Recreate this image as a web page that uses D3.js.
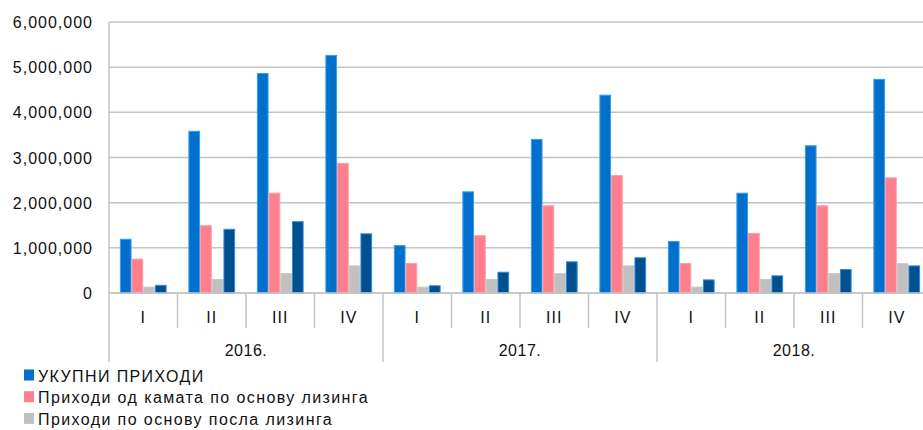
<!DOCTYPE html>
<html lang="sr">
<head>
    <meta charset="UTF-8">
    <title>Приходи</title>
    <script src="https://d3js.org/d3.v7.min.js"></script>
    <style>
        body { margin: 0; background: #fff; }
        text { font-family: "Liberation Sans", Arial, sans-serif; fill: #111; }
        .grid line { stroke: #c4c4c4; stroke-width: 1.5; }
    </style>
</head>
<body>
    <svg></svg>

    <script>
        // data
        const years = ["2016.", "2017.", "2018."];
        const quarters = ["I", "II", "III", "IV"];
        const seriesNames = [
            "УКУПНИ ПРИХОДИ",
            "Приходи од камата по основу лизинга",
            "Приходи по основу посла лизинга",
            "Остали приходи"   // 4th legend row is cut off in the picture
        ];
        const ukupni  = [1190000, 3580000, 4860000, 5260000, 1050000, 2240000, 3400000, 4380000, 1140000, 2210000, 3260000, 4730000];
        const kamate  = [750000, 1490000, 2210000, 2870000, 650000, 1270000, 1930000, 2600000, 650000, 1320000, 1930000, 2550000];
        const posao   = [130000, 300000, 430000, 600000, 130000, 300000, 430000, 600000, 130000, 300000, 430000, 650000];
        const ostali  = [170000, 1410000, 1580000, 1310000, 160000, 460000, 690000, 780000, 290000, 380000, 520000, 600000];
        const yTicks = [0, 1000000, 2000000, 3000000, 4000000, 5000000, 6000000];

        const colors  = ["#0070cc", "#ff7f8c", "#c0c0c0", "#00508f"];
        const strokes = ["#3b9cf0", "#ff9aa5", "#c8c8c8", "#2f8ae0"];

        const width = 923, height = 430;
        const svg = d3.select('svg')
            .attr('width', width)
            .attr('height', height)
            .attr('viewBox', [0, 0, width, height]);

        const margin = {top: 22, left: 109, bottom: 293, right: 931};

        const cats = [];
        years.forEach(y => quarters.forEach(q => cats.push(y + "|" + q)));
        const values = [ukupni, kamate, posao, ostali];
        const data = cats.map((c, i) => ({cat: c, vals: values.map(s => s[i])}));

        const x = d3.scaleBand().domain(cats).range([margin.left, margin.right]);
        const xs = d3.scaleBand().domain(d3.range(4)).range([0, x.bandwidth()]).paddingOuter(0.93);
        const y = d3.scaleLinear().domain([0, 6000000]).range([margin.bottom, margin.top]);

        // gridlines
        svg.append('g').attr('class', 'grid')
            .selectAll('line').data(yTicks).join('line')
            .attr('x1', margin.left).attr('x2', width)
            .attr('y1', d => y(d)).attr('y2', d => y(d));

        // y labels
        svg.append('g').selectAll('text').data(yTicks).join('text')
            .attr('x', 93).attr('y', d => y(d) + 6)
            .attr('text-anchor', 'end')
            .attr('font-size', 16)
            .attr('letter-spacing', 1)
            .text(d => d3.format(',')(d));

        // bars
        const groups = svg.append('g').selectAll('g').data(data).join('g')
            .attr('transform', d => `translate(${x(d.cat)},0)`);
        groups.selectAll('rect').data(d => d.vals).join('rect')
            .attr('x', (d, i) => xs(i) + 0.5)
            .attr('width', xs.bandwidth() - 1)
            .attr('y', d => y(d))
            .attr('height', d => y(0) - y(d))
            .attr('fill', (d, i) => colors[i])
            .attr('stroke', (d, i) => strokes[i])
            .attr('stroke-width', 1);

        // axes lines
        const axisColor = "#c4c4c4";
        svg.append('line')
            .attr('x1', margin.left).attr('x2', margin.left)
            .attr('y1', margin.top).attr('y2', 362)
            .attr('stroke', axisColor).attr('stroke-width', 1.5);
        svg.append('line')
            .attr('x1', margin.left).attr('x2', width)
            .attr('y1', y(0)).attr('y2', y(0))
            .attr('stroke', axisColor).attr('stroke-width', 1.5);

        // quarter separators and labels
        svg.append('g').selectAll('line').data(cats.slice(1)).join('line')
            .attr('x1', d => x(d)).attr('x2', d => x(d))
            .attr('y1', y(0)).attr('y2', d => d.endsWith("|I") ? 362 : 328)
            .attr('stroke', axisColor).attr('stroke-width', 1.5);
        svg.append('g').selectAll('text').data(cats).join('text')
            .attr('x', d => x(d) + x.bandwidth() / 2)
            .attr('y', 323)
            .attr('text-anchor', 'middle')
            .attr('font-size', 16)
            .attr('letter-spacing', 1)
            .text(d => d.split("|")[1]);
        svg.append('g').selectAll('text').data(years).join('text')
            .attr('x', d => x(d + "|I") + x.bandwidth() * 2)
            .attr('y', 356)
            .attr('text-anchor', 'middle')
            .attr('font-size', 16)
            .attr('letter-spacing', 0.5)
            .text(d => d);

        // legend (only first three rows fit in the picture)
        const legend = svg.append('g').selectAll('g').data(seriesNames.slice(0, 3)).join('g')
            .attr('transform', (d, i) => `translate(24,${381.5 + i * 21.7})`);
        legend.append('rect')
            .attr('x', 0).attr('y', -12).attr('width', 10).attr('height', 11)
            .attr('fill', (d, i) => colors[i]);
        legend.append('text')
            .attr('x', 14).attr('y', 0)
            .attr('font-size', 16)
            .attr('letter-spacing', 1.4)
            .text(d => d);
    </script>
</body>
</html>
